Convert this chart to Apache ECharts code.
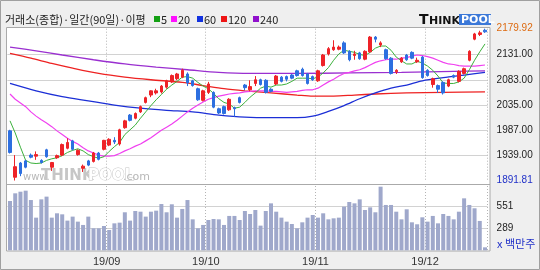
<!DOCTYPE html>
<html><head><meta charset="utf-8">
<script src="https://cdn.jsdelivr.net/npm/echarts@6/dist/echarts.min.js"></script>
<style>html,body{margin:0;padding:0;background:#efefef;}#c{width:540px;height:270px;}</style>
</head><body><div id="c"></div>
<script>
// trading days per month (KOSPI, Aug–Dec 2019)
const monthDays = {
  '2019-08': [5,6,7,8,9,12,13,14,16,19,20,21,22,23,26,27,28,29,30],
  '2019-09': [2,3,4,5,6,9,10,11,16,17,18,19,20,23,24,25,26,27,30],
  '2019-10': [1,2,4,7,8,10,11,14,15,16,17,18,21,22,23,24,25,28,29,30,31],
  '2019-11': [1,4,5,6,7,8,11,12,13,14,15,18,19,20,21,22,25,26,27,28,29],
  '2019-12': [2,3,4,5,6,9,10,11,12,13,16,17]
};
const opens = [1986,1898,1925,1929,1940,1938,1930,1950,1917,1935,1940,1953,1967,1941,1915,1929,1928,1944,1951,1959,1968,1961,1992,2016,2010,2022,2040,2054,2058,2060,2069,2079,2085,2088,2094,2081,2066,2044,2059,2059,2028,2032,2026,2030,2049,2073,2064,2076,2083,2082,2065,2075,2088,2089,2092,2100,2103,2094,2089,2081,2110,2132,2140,2141,2153,2137,2129,2134,2122,2136,2164,2149,2140,2124,2098,2117,2130,2135,2117,2126,2101,2074,2072,2078,2071,2091,2080,2095,2120,2160,2169,2177];
const closes = [1945,1918,1905,1917,1936,1941,1926,1937,1926,1939,1960,1964,1951,1949,1919,1921,1944,1932,1968,1970,1965,1988,2005,2006,2019,2032,2049,2062,2062,2071,2081,2091,2094,2101,2077,2072,2045,2062,2075,2031,2020,2019,2046,2028,2040,2068,2070,2083,2074,2059,2061,2090,2080,2084,2086,2091,2091,2076,2083,2100,2130,2142,2145,2145,2134,2121,2132,2123,2137,2164,2160,2153,2123,2095,2101,2124,2121,2124,2120,2087,2091,2085,2065,2058,2083,2088,2099,2104,2137,2170,2172,2174];
const lows = [1943,1891.81,1900,1915,1934,1931,1924,1935,1910,1933,1938,1951,1949,1939,1908,1919,1926,1930,1949,1957,1961,1958,1990,2004,2008,2020,2038,2050,2055,2057,2066,2077,2082,2086,2071,2070,2043,2042,2056,2029,2018,2017,2024,2013,2038,2063,2061,2071,2072,2057,2059,2073,2078,2080,2084,2089,2089,2074,2081,2079,2108,2129,2138,2139,2132,2118,2121,2121,2120,2134,2154,2145,2121,2093,2094,2115,2119,2122,2115,2085,2089,2068,2058,2055,2069,2086,2078,2093,2118,2158,2166,2172];
const highs = [1988,1940,1927,1931,1943,1947,1932,1952,1927,1941,1962,1972,1969,1951,1922,1931,1946,1946,1969,1972,1974,1990,2007,2018,2021,2034,2051,2063,2066,2073,2083,2093,2096,2104,2097,2083,2068,2064,2079,2061,2030,2034,2048,2032,2051,2075,2082,2090,2085,2084,2067,2092,2090,2091,2094,2102,2106,2096,2091,2102,2132,2145,2158,2148,2156,2139,2138,2136,2139,2166,2166,2156,2142,2126,2103,2126,2132,2137,2125,2128,2103,2087,2074,2080,2085,2093,2101,2106,2139,2172,2176,2179.92];
const volumes = [610,700,719,731,621,414,629,661,414,465,453,379,426,367,328,426,289,289,316,269,347,355,477,379,492,484,426,484,496,574,477,571,414,516,621,394,289,328,386,398,394,328,434,434,386,492,457,504,320,492,582,484,414,367,339,289,359,414,445,414,465,394,406,414,543,598,582,629,504,535,477,778,563,563,484,394,512,359,336,418,367,434,347,457,434,394,484,641,563,524,375,65];
const ma5 = [2005,1982,1955,1930,1925,1924,1925,1930,1933,1935,1939,1945,1949,1952,1948,1941,1937,1934,1937,1947,1956,1964,1979,1988,1997,2010,2022,2034,2045,2055,2065,2073,2080,2088,2089,2086,2078,2071,2066,2057,2047,2040,2037,2029,2031,2040,2050,2058,2067,2071,2069,2073,2073,2075,2080,2086,2086,2086,2085,2088,2096,2106,2120,2132,2139,2137,2135,2131,2129,2135,2143,2147,2147,2139,2126,2119,2113,2113,2118,2115,2109,2101,2090,2077,2076,2076,2079,2086,2102,2120,2136,2151];
const ma20 = [2056,2046,2039,2032,2022,2014,2007,2001,1994,1986,1979,1972,1966,1961,1954,1948,1944,1940,1938,1938,1939,1943,1948,1952,1957,1961,1967,1973,1980,1987,1993,1999,2006,2014,2022,2029,2035,2041,2046,2049,2052,2054,2056,2057,2058,2060,2061,2062,2062,2062,2061,2061,2060,2059,2060,2061,2063,2064,2064,2067,2073,2079,2084,2090,2095,2097,2100,2102,2106,2111,2116,2119,2121,2122,2122,2124,2125,2128,2130,2129,2127,2124,2120,2116,2113,2112,2110,2109,2109,2109,2110,2111];
// long averages read at sample candles: [candle index, value]
const ma60 = [[0,2076],[5,2062],[10,2051],[15,2043],[20,2035],[25,2029],[30,2025],[35,2022],[40,2016],[45,2012],[50,2011],[55,2011],[58,2014],[61,2023],[64,2034],[67,2047],[70,2058],[73,2067],[76,2073],[79,2081],[83,2087],[87,2092],[91,2097]];
const ma120 = [[0,2133],[4,2124],[8,2114],[12,2105],[17,2095],[22,2088],[27,2083],[33,2078],[37,2072],[41,2066],[45,2062],[50,2058],[55,2054],[58,2052],[62,2052],[66,2054],[70,2056],[76,2058],[83,2059],[91,2060]];
const ma240 = [[0,2145],[5,2138],[10,2130],[16,2121],[22,2113],[28,2107],[34,2102],[40,2097],[46,2095],[55,2095],[65,2096],[75,2097],[85,2099],[91,2100]];
const priceLabels = [1891.81,1939,1987,2035,2083,2131,2179.92];
const priceGrid = [1939,1987,2035,2083,2131];
const volLabels = [289,551];

const categories = [];
Object.keys(monthDays).forEach(m => monthDays[m].forEach(d => categories.push(m + '-' + String(d).padStart(2,'0'))));
const isMonthStart = (i) => i > 0 && categories[i].slice(0,7) !== categories[i-1].slice(0,7);
const candles = categories.map((_, i) => [opens[i], closes[i], lows[i], highs[i]]);

const UP = '#ee2328', DOWN = '#2d6fe0';
const L = 7.4, R = 52.4;
const chart = echarts.init(document.getElementById('c'), null, {renderer: 'canvas'});
const txt = (x, y, text, extra) => Object.assign({type: 'text', x, y, style: Object.assign({text, fill: '#222', font: '11px "Noto Sans CJK KR"', textVerticalAlign: 'middle'}, extra || {})});
const sq = (x, color) => ({type: 'rect', shape: {x, y: 16, width: 6, height: 6}, style: {fill: color}});

chart.setOption({
  animation: false,
  backgroundColor: '#efefef',
  grid: [
    {left: L, right: R, top: 28.7, height: 151.8},
    {left: L, right: R, top: 186, height: 64.3}
  ],
  xAxis: [0, 1].map(g => ({
    type: 'category', gridIndex: g, data: categories, boundaryGap: true,
    axisLine: {show: false}, axisTick: {show: false},
    axisLabel: g === 1 ? {
      show: true, interval: isMonthStart, margin: 6, padding: [0, 5, 0, 0],
      formatter: v => v.slice(2,4) + '/' + v.slice(5,7),
      color: '#333', fontSize: 11, fontFamily: 'Liberation Sans'
    } : {show: false},
    splitLine: {show: true, interval: isMonthStart, lineStyle: {color: '#b4b4b4', type: [1, 2], width: 1}}
  })),
  yAxis: [
    {
      type: 'value', gridIndex: 0, position: 'right', min: 1891.81, max: 2179.92,
      axisLine: {show: false}, axisTick: {show: false, customValues: priceGrid},
      splitLine: {show: true, lineStyle: {color: '#d2d2d2'}},
      axisLabel: {
        customValues: priceLabels, margin: 9, fontSize: 10, fontFamily: 'Liberation Sans',
        formatter: v => {
          const s = v.toFixed(2);
          if (v === 2179.92) return '{hi|' + s + '}';
          if (v === 1891.81) return '{lo|' + s + '}';
          return '{n|' + s + '}';
        },
        rich: {hi: {color: '#dd6a10', fontSize: 10, fontFamily: 'Liberation Sans'}, lo: {color: '#2030c8', fontSize: 10, fontFamily: 'Liberation Sans'}, n: {color: '#222', fontSize: 10, fontFamily: 'Liberation Sans'}}
      }
    },
    {
      type: 'value', gridIndex: 1, position: 'right', min: 30, max: 786,
      axisLine: {show: false}, axisTick: {show: false, customValues: volLabels},
      splitLine: {show: true, lineStyle: {color: '#d2d2d2'}},
      axisLabel: {customValues: volLabels, margin: 9, fontSize: 10, fontFamily: 'Liberation Sans', color: '#222'}
    }
  ],
  series: [
    {type: 'line', xAxisIndex: 0, yAxisIndex: 0, data: ma240, showSymbol: false, smooth: 0.3, lineStyle: {color: '#9a2fd0', width: 1.3}, z: 3},
    {type: 'line', xAxisIndex: 0, yAxisIndex: 0, data: ma120, showSymbol: false, smooth: 0.3, lineStyle: {color: '#ee2222', width: 1.3}, z: 3},
    {type: 'line', xAxisIndex: 0, yAxisIndex: 0, data: ma60, showSymbol: false, smooth: 0.3, lineStyle: {color: '#1c2fd6', width: 1.3}, z: 3},
    {type: 'line', xAxisIndex: 0, yAxisIndex: 0, data: ma20, showSymbol: false, lineStyle: {color: '#f040f0', width: 1.2}, z: 3},
    {type: 'line', xAxisIndex: 0, yAxisIndex: 0, data: ma5, showSymbol: false, lineStyle: {color: '#3cb13c', width: 1}, z: 3},
    {type: 'candlestick', xAxisIndex: 0, yAxisIndex: 0, data: candles, barWidth: 3,
     itemStyle: {color: UP, color0: DOWN, borderColor: UP, borderColor0: DOWN, borderWidth: 1}, z: 4},
    {type: 'bar', xAxisIndex: 1, yAxisIndex: 1, data: volumes, barWidth: 4, itemStyle: {color: '#9fa8cb'}, clip: true}
  ],
  graphic: [
    {type: 'rect', z: -10, shape: {x: 6.5, y: 27.5, width: 483.5, height: 223.5}, style: {fill: '#ffffff', stroke: '#aaaaaa', lineWidth: 1}},
    {type: 'line', z: 10, shape: {x1: 6.5, y1: 184.5, x2: 490, y2: 184.5}, style: {stroke: '#aaaaaa', lineWidth: 1}},
    txt(5, 20, '거래소(종합)·일간(90일)·이평'),
    sq(154, '#14a014'), txt(161, 20, '5'),
    sq(171, '#ff10ff'), txt(178, 20, '20'),
    sq(197, '#1232e0'), txt(204, 20, '60'),
    sq(221, '#ee1515'), txt(228, 20, '120'),
    sq(253, '#9010cc'), txt(260, 20, '240'),
    txt(419, 20, 'T', {font: 'bold 14px "DejaVu Sans"', fill: '#111'}),
    txt(429, 21, 'HINK', {font: 'bold 11px "DejaVu Sans"', fill: '#111'}),
    {type: 'rect', shape: {x: 459, y: 14, width: 32, height: 11}, style: {fill: '#3b78d8'}},
    txt(461, 20, 'POOL', {font: 'bold 11px "DejaVu Sans"', fill: '#ffffff'}),
    txt(23, 177, 'www.', {font: '10px "DejaVu Sans"', fill: '#b8b8b8'}),
    txt(41, 176, 'THINK', {font: 'bold 15px "DejaVu Sans"', fill: '#c6c6c6'}),
    txt(88, 176, 'POOL', {font: 'bold 15px "DejaVu Sans"', fill: '#ffffff', stroke: '#c6c6c6', lineWidth: 1}),
    txt(123, 177, '.com', {font: '11px "DejaVu Sans"', fill: '#b8b8b8'}),
    txt(497, 244, 'x 백만주', {font: '11px "Noto Sans CJK KR"', fill: '#2030c8'}),
    {type: 'rect', z: 20, shape: {x: 0.5, y: 0.5, width: 539, height: 269}, style: {fill: 'none', stroke: '#a0a0a0', lineWidth: 1}}
  ]
});
</script></body></html>
